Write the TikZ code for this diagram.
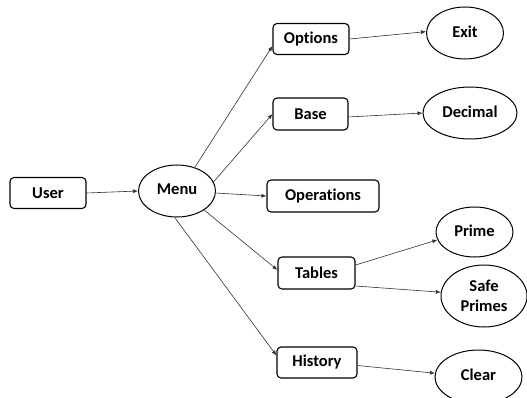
\documentclass[tikz,border=0pt]{standalone}
\usepackage{fontspec}
\setmainfont{Carlito}[Ligatures=NoCommon]
\usetikzlibrary{shapes.geometric,arrows.meta}
\begin{document}
\begin{tikzpicture}[x=1pt,y=-1pt,
  every node/.style={font=\bfseries\fontsize{16.5}{20}\selectfont, inner sep=0pt, align=center},
  boxnode/.style={draw, line width=1.1pt, rounded corners=4pt, minimum height=31pt},
  ovalnode/.style={draw, ellipse, line width=1pt},
  conn/.style={draw=black!80, line width=0.6pt, -{Latex[length=5pt,width=4pt]}}]
\useasboundingbox (0,0) rectangle (527,398);
\clip (0,0) rectangle (527,398);
\node[boxnode, minimum width=76pt] (user) at (48,193) {User};
\node[ovalnode, minimum width=77pt, minimum height=52pt] (menu) at (177,191) {\raisebox{3pt}{Menu}};
\node[boxnode, minimum width=76pt] (options) at (311,39) {Options};
\node[boxnode, minimum width=75pt, minimum height=32pt] (base) at (310.5,114) {Base};
\node[boxnode, minimum width=112pt, minimum height=32pt] (ops) at (323,196) {Operations};
\node[boxnode, minimum width=77pt, minimum height=32pt] (tables) at (316.5,273) {Tables};
\node[boxnode, minimum width=80pt] (history) at (317,362.5) {History};
\node[ovalnode, minimum width=77pt, minimum height=52pt] (exit) at (465,33) {\raisebox{3pt}{Exit}};
\node[ovalnode, minimum width=94pt, minimum height=52pt] (decimal) at (470,113) {\raisebox{3pt}{Decimal}};
\node[ovalnode, minimum width=77pt, minimum height=50pt] (prime) at (474.5,232) {\raisebox{3pt}{Prime}};
\node[ovalnode, minimum width=86pt, minimum height=62pt] (safe) at (484,296) {Safe\\Primes};
\node[ovalnode, minimum width=87pt, minimum height=54pt] (clear) at (478.5,377) {\raisebox{4pt}{Clear}};
\draw[conn] (user.east) -- (menu.west);
\draw[conn] (menu.53) -- ([yshift=-7pt]options.west);
\draw[conn] (menu.14) -- (base.west);
\draw[conn] (menu.-3) -- (ops.west);
\draw[conn] (menu.-35) -- ([yshift=3pt]tables.west);
\draw[conn] (menu.-95) -- ([yshift=7pt]history.west);
\draw[conn] (options.east) -- (exit.178);
\draw[conn] ([yshift=-3pt]base.east) -- (decimal.west);
\draw[conn] ([yshift=8pt]tables.east) -- (prime.192);
\draw[conn] ([yshift=-13pt]tables.east) -- (safe.175);
\draw[conn] ([yshift=-3pt]history.east) -- (clear.175);
\end{tikzpicture}
\end{document}
